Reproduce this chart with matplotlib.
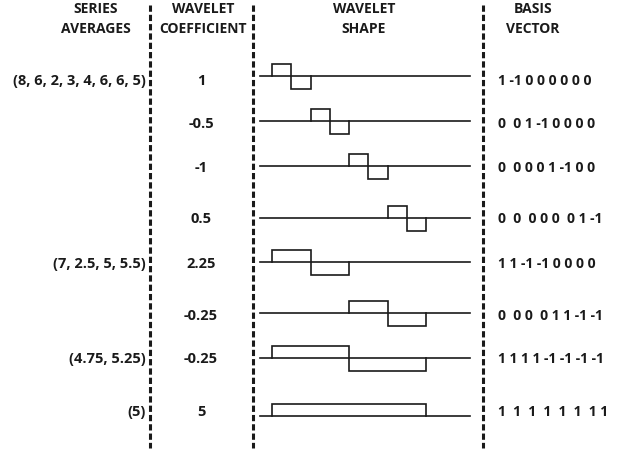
import matplotlib
matplotlib.use("Agg")
import matplotlib.pyplot as plt

plt.rcParams['font.family'] = ['Open Sans', 'DejaVu Sans']
plt.rcParams['lines.scale_dashes'] = False

# data
averages = ["(8, 6, 2, 3, 4, 6, 6, 5)", "", "", "", "(7, 2.5, 5, 5.5)", "", "(4.75, 5.25)", "(5)"]
coefficients = ["1", "-0.5", "-1", "0.5", "2.25", "-0.25", "-0.25", "5"]
basis = [
    [1, -1, 0, 0, 0, 0, 0, 0],
    [0, 0, 1, -1, 0, 0, 0, 0],
    [0, 0, 0, 0, 1, -1, 0, 0],
    [0, 0, 0, 0, 0, 0, 1, -1],
    [1, 1, -1, -1, 0, 0, 0, 0],
    [0, 0, 0, 0, 1, 1, -1, -1],
    [1, 1, 1, 1, -1, -1, -1, -1],
    [1, 1, 1, 1, 1, 1, 1, 1],
]
basis_labels = ["1 -1 0 0 0 0 0 0", "0  0 1 -1 0 0 0 0", "0  0 0 0 1 -1 0 0", "0  0  0 0 0  0 1 -1",
                "1 1 -1 -1 0 0 0 0", "0  0 0  0 1 1 -1 -1", "1 1 1 1 -1 -1 -1 -1", "1  1  1  1  1  1  1 1"]

# layout (pixel space)
row_y = [76, 121, 166, 218, 262, 313, 358, 416]
label_y = [81, 124, 168, 219, 264, 316, 359, 412]
x0, unit, amp = 272, 19.25, 12.5
line_x = (260, 470)
dash_x = [150, 253, 483]
ink = '#1a1a1a'

fig = plt.figure(figsize=(6.17, 4.5), dpi=100)
ax = fig.add_axes([0, 0, 1, 1])
ax.set_xlim(0, 617)
ax.set_ylim(450, 0)
ax.axis('off')

for x in dash_x:
    ax.plot([x, x], [5, 448], color=ink, lw=2.2, linestyle=(0, (4.5, 2.2)), solid_capstyle='butt')

hdr = dict(fontsize=10, fontweight='bold', color=ink, ha='center', va='center')
ax.text(96, 9, "SERIES", **hdr)
ax.text(96, 29, "AVERAGES", **hdr)
ax.text(203, 9, "WAVELET", **hdr)
ax.text(203, 29, "COEFFICIENT", **hdr)
ax.text(364, 9, "WAVELET", **hdr)
ax.text(364, 29, "SHAPE", **hdr)
ax.text(533, 9, "BASIS", **hdr)
ax.text(533, 29, "VECTOR", **hdr)

body = dict(fontsize=10.5, fontweight='bold', color=ink, va='center')
for i, y in enumerate(row_y):
    ax.text(146, label_y[i], averages[i], ha='right', **body)
    ax.text(201, label_y[i], coefficients[i], ha='center', **body)
    ax.text(498, label_y[i], basis_labels[i], ha='left', fontsize=10, fontweight='bold', color=ink, va='center')

    # baseline through the whole cell
    ax.plot(line_x, [y, y], color=ink, lw=1.2)
    # step function from the basis vector
    vec = basis[i]
    nz = [k for k, v in enumerate(vec) if v != 0]
    xs = [x0 + nz[0] * unit]
    ys = [y]
    for k in range(nz[0], nz[-1] + 1):
        xl = x0 + k * unit
        xs += [xl, xl + unit]
        ys += [y - amp * vec[k], y - amp * vec[k]]
    xs.append(x0 + (nz[-1] + 1) * unit)
    ys.append(y)
    ax.plot(xs, ys, color=ink, lw=1.2, solid_joinstyle='miter')

fig.savefig("out.png", dpi=100)
